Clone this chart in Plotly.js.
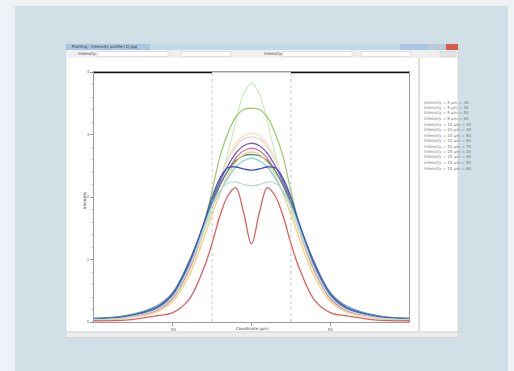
<!DOCTYPE html>
<html><head><meta charset="utf-8">
<script src="https://cdn.plot.ly/plotly-3.0.1.min.js"></script>
<style>html,body{margin:0;padding:0;background:#eef3f6}#chart{width:514px;height:371px}</style>
</head><body><div id="chart"></div>
<script>
// ---- data ----
const xPos = [-100,-80,-60,-50,-40,-30,-25,-20,-15,-10,-5,0,5,10,15,20,25,30,40,50,60,80,100];
const seriesNames = [
  "length = 5 µm = 30","length = 5 µm = 40","length = 5 µm = 50","length = 5 µm = 60",
  "length = 10 µm = 30","length = 10 µm = 40","length = 10 µm = 50","length = 10 µm = 60",
  "length = 15 µm = 30","length = 15 µm = 40","length = 15 µm = 50","length = 15 µm = 60"
];
const paleGreen = [0.04,0.08,0.22,0.42,0.85,1.45,1.8,2.25,2.7,3.2,3.65,3.82,3.65,3.2,2.7,2.25,1.8,1.45,0.85,0.42,0.22,0.08,0.04];
const olive     = [0.05,0.08,0.22,0.42,0.9,1.6,2.1,2.65,3.02,3.28,3.4,3.42,3.4,3.28,3.02,2.65,2.1,1.6,0.9,0.42,0.22,0.08,0.05];
const palePink  = [0.04,0.07,0.2,0.4,0.85,1.55,1.95,2.3,2.6,2.8,2.93,2.96,2.93,2.8,2.6,2.3,1.95,1.55,0.85,0.4,0.2,0.07,0.04];
const purple    = [0.05,0.08,0.22,0.42,0.88,1.55,1.95,2.25,2.5,2.7,2.82,2.86,2.82,2.7,2.5,2.25,1.95,1.55,0.88,0.42,0.22,0.08,0.05];
const magenta   = [0.04,0.07,0.19,0.38,0.82,1.5,1.88,2.18,2.42,2.62,2.74,2.78,2.74,2.62,2.42,2.18,1.88,1.5,0.82,0.38,0.19,0.07,0.04];
const yellow    = [0.03,0.06,0.16,0.33,0.72,1.36,1.72,2.05,2.35,2.55,2.68,2.72,2.68,2.55,2.35,2.05,1.72,1.36,0.72,0.33,0.16,0.06,0.03];
const cyan      = [0.05,0.09,0.25,0.45,0.92,1.55,1.85,2.08,2.3,2.48,2.58,2.62,2.58,2.48,2.3,2.08,1.85,1.55,0.92,0.45,0.25,0.09,0.05];
const blue      = [0.05,0.09,0.24,0.45,0.92,1.6,2.0,2.3,2.47,2.48,2.45,2.43,2.45,2.48,2.47,2.3,2.0,1.6,0.92,0.45,0.24,0.09,0.05];
const paleTeal  = [0.04,0.07,0.2,0.4,0.85,1.5,1.85,2.1,2.22,2.24,2.2,2.18,2.2,2.24,2.22,2.1,1.85,1.5,0.85,0.4,0.2,0.07,0.04];
const red       = [0.02,0.03,0.1,0.15,0.35,0.88,1.26,1.7,2.02,2.15,1.75,1.25,1.75,2.15,2.02,1.7,1.26,0.88,0.35,0.15,0.1,0.03,0.02];
const darkGreen = [0.06,0.1,0.26,0.47,0.95,1.58,1.92,2.2,2.42,2.58,2.66,2.68,2.66,2.58,2.42,2.2,1.92,1.58,0.95,0.47,0.26,0.1,0.06];
const paleYellow= [0.04,0.07,0.18,0.36,0.78,1.45,1.85,2.25,2.6,2.85,2.98,3.02,2.98,2.85,2.6,2.25,1.85,1.45,0.78,0.36,0.18,0.07,0.04];
const yTickVals = [0,1,2,3,4];
const yTickText = ["0","1","2","3","4"];
const xTickVals = [-50,0,50];
const xTickText = ["-50","","50"];
const legendLabels = [
  "Intensity = 5 µm = 30","Intensity = 5 µm = 40","Intensity = 5 µm = 50","Intensity = 5 µm = 60",
  "Intensity = 10 µm = 30","Intensity = 10 µm = 40","Intensity = 10 µm = 50","Intensity = 10 µm = 60",
  "Intensity = 10 µm = 70","Intensity = 15 µm = 30","Intensity = 15 µm = 40","Intensity = 15 µm = 50",
  "Intensity = 15 µm = 60"
];

// ---- drawing ----
const W = 514, H = 371;
const px = v => v / W, py = v => 1 - v / H;
const seriesData = [paleGreen, olive, palePink, paleYellow, purple, magenta, darkGreen, yellow, cyan, blue, paleTeal, red];
const colors = ['#d3eac8','#a2cc6e','#f1d2d8','#f2e6b4','#7d5fc4','#d078a8','#4a8f70','#f0d17e','#82d2e2','#4152c6','#b8e3d3','#e25c5c'];
const traces = seriesData.map((ys, i) => ({
  x: xPos, y: ys, type: 'scatter', mode: 'lines', name: seriesNames[i] || ('s' + i),
  line: {color: colors[i], width: 1.3, shape: 'spline', smoothing: 1}, hoverinfo: 'skip'
}));

function rect(x0, y0, x1, y1, fill, lineColor, lw) {
  return {type: 'rect', xref: 'paper', yref: 'paper', x0: px(x0), x1: px(x1), y0: py(y1), y1: py(y0),
          fillcolor: fill, line: {color: lineColor || 'rgba(0,0,0,0)', width: lw || 0}, layer: 'below'};
}
function hline(x0, x1, y, color, w) {
  return {type: 'line', xref: 'paper', yref: 'paper', x0: px(x0), x1: px(x1), y0: py(y), y1: py(y),
          line: {color: color, width: w}, layer: 'below'};
}
function vline(x, y0, y1, color, w) {
  return {type: 'line', xref: 'paper', yref: 'paper', x0: px(x), x1: px(x), y0: py(y0), y1: py(y1),
          line: {color: color, width: w}, layer: 'below'};
}

const shapes = [
  rect(15, 6, 508, 380, '#d1dfe6'),
  rect(66, 44, 458, 337, '#fbfbfb', '#c8c8c8', 0.5),
  rect(66, 44, 458, 50, '#a9c6e2'),
  rect(150, 44, 400, 50, '#c3d9ee'),
  rect(428, 44, 446, 50, '#b9cbd9'),
  rect(446, 44, 458, 50, '#d65a4e'),
  rect(66, 50, 458, 58, '#efefef'),
  rect(98, 51.5, 168, 56.5, '#ffffff', '#c9c9c9', 0.5),
  rect(182, 51.5, 230, 56.5, '#ffffff', '#c9c9c9', 0.5),
  rect(283, 51.5, 352, 56.5, '#ffffff', '#c9c9c9', 0.5),
  rect(362, 51.5, 410, 56.5, '#ffffff', '#c9c9c9', 0.5),
  rect(440, 51.5, 456, 56.5, '#e4e4e4', '#c9c9c9', 0.5),
  rect(67, 58, 418, 331, '#ffffff'),
  rect(420, 58, 457, 331, '#ffffff'),
  vline(419, 58, 331, '#c4c4c4', 1),
  hline(66, 458, 332, '#c8c8c8', 1),
  rect(66, 333, 458, 337, '#ececec'),
  // mask bar at the top of the plot
  {type: 'line', xref: 'x', yref: 'y', x0: -100, x1: -25, y0: 4, y1: 4, line: {color: '#111', width: 2.5}},
  {type: 'line', xref: 'x', yref: 'y', x0: 25, x1: 100, y0: 4, y1: 4, line: {color: '#111', width: 2.5}},
  {type: 'line', xref: 'x', yref: 'y', x0: -25, x1: 25, y0: 4, y1: 4, line: {color: '#d4d4d4', width: 2}},
  {type: 'line', xref: 'x', yref: 'y', x0: -25, x1: -25, y0: 0, y1: 4, line: {color: '#b0b0b0', width: 0.7, dash: 'dot'}},
  {type: 'line', xref: 'x', yref: 'y', x0: 25, x1: 25, y0: 0, y1: 4, line: {color: '#b0b0b0', width: 0.7, dash: 'dot'}}
];

const annotations = [
  {text: 'Plotting - Intensity profile (1).jpg', x: px(70), y: py(47), xref: 'paper', yref: 'paper', xanchor: 'left', yanchor: 'middle', showarrow: false, font: {size: 4, color: '#333'}},
  {text: 'Intensity:', x: px(76), y: py(54), xref: 'paper', yref: 'paper', xanchor: 'left', yanchor: 'middle', showarrow: false, font: {size: 4, color: '#444'}},
  {text: 'Intensity:', x: px(262), y: py(54), xref: 'paper', yref: 'paper', xanchor: 'left', yanchor: 'middle', showarrow: false, font: {size: 4, color: '#444'}},
  {text: 'Coordinate (µm)', x: px(252), y: py(328.5), xref: 'paper', yref: 'paper', xanchor: 'center', yanchor: 'middle', showarrow: false, font: {size: 4, color: '#444'}},
  {text: 'Intensity', x: px(85), y: py(200), xref: 'paper', yref: 'paper', xanchor: 'center', yanchor: 'middle', textangle: -90, showarrow: false, font: {size: 4, color: '#444'}}
];
legendLabels.forEach((t, i) => annotations.push({
  text: t, x: px(422), y: py(102 + i * 5.5), xref: 'paper', yref: 'paper', xanchor: 'left', yanchor: 'middle',
  showarrow: false, font: {size: 4, color: '#777'}
}));

const layout = {
  width: W, height: H, margin: {l: 0, r: 0, t: 0, b: 0},
  paper_bgcolor: '#eef3f6', plot_bgcolor: 'rgba(0,0,0,0)', showlegend: false,
  font: {family: 'DejaVu Sans, sans-serif', color: '#555'},
  xaxis: {domain: [px(94), px(409)], range: [-100, 100], showgrid: false, zeroline: false,
          showline: true, linecolor: '#9a9a9a', linewidth: 1, mirror: true,
          ticks: 'outside', ticklen: 3, tickcolor: '#9a9a9a', tickvals: xTickVals, ticktext: xTickText,
          tickfont: {size: 4, color: '#666'}},
  yaxis: {domain: [py(322), py(72)], range: [0, 4], showgrid: false, zeroline: false,
          showline: true, linecolor: '#9a9a9a', linewidth: 1, mirror: true,
          ticks: 'outside', ticklen: 3, tickcolor: '#9a9a9a', tickvals: yTickVals, ticktext: yTickText,
          tickfont: {size: 4, color: '#666'},
          minor: {ticks: 'outside', ticklen: 1.5, tickcolor: '#b0b0b0', dtick: 0.2, showgrid: false}},
  shapes: shapes, annotations: annotations
};
Plotly.newPlot('chart', traces, layout, {displayModeBar: false, staticPlot: true});
</script></body></html>
